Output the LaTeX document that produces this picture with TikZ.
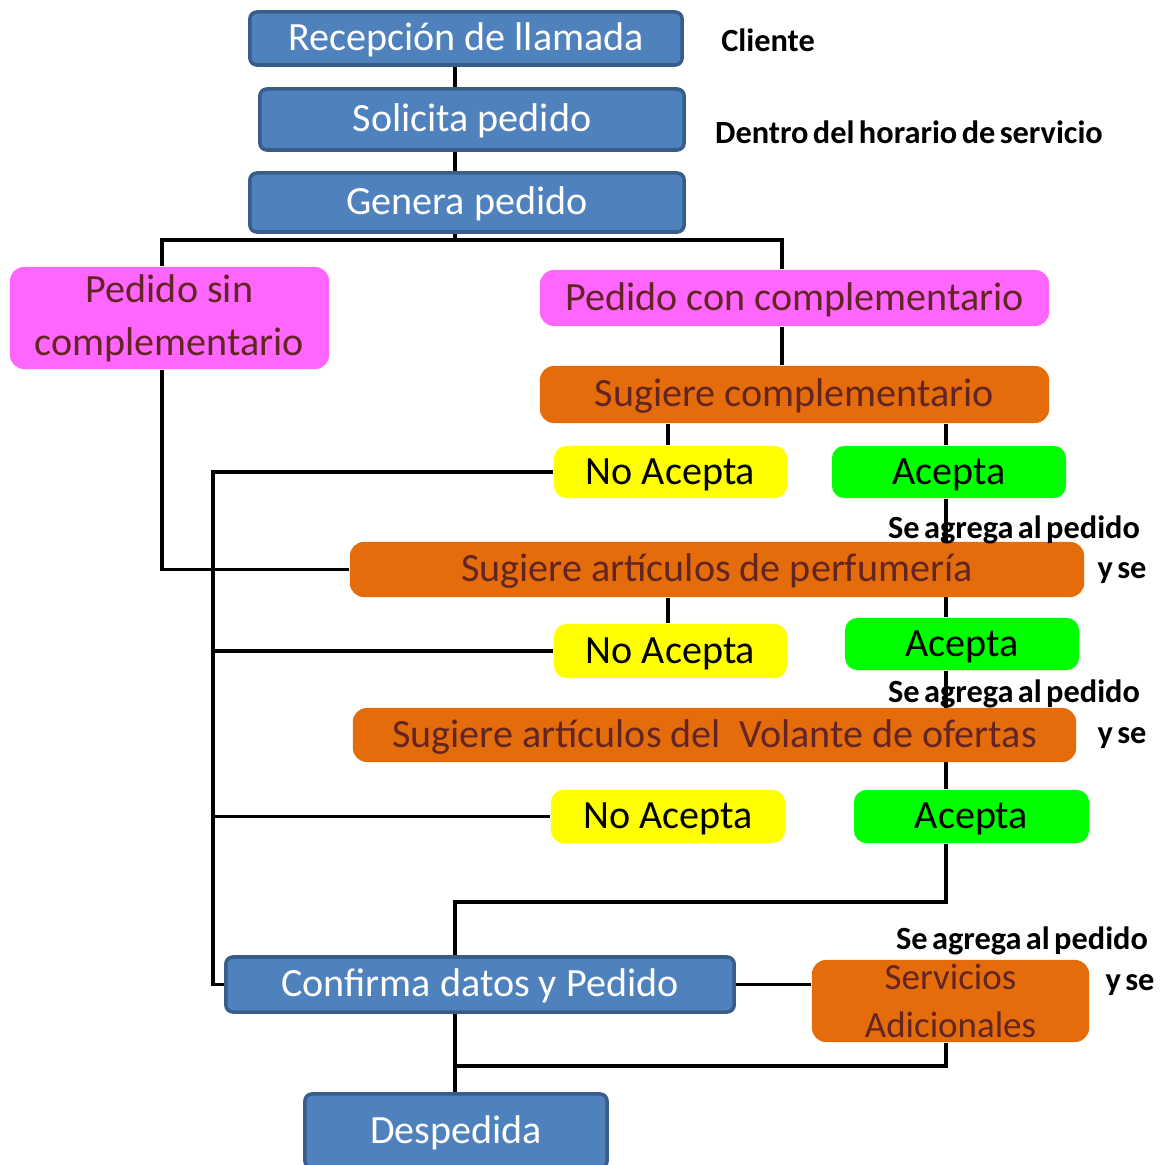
\documentclass[tikz,border=0pt]{standalone}
\usepackage{fontspec}
\setmainfont{Carlito}
\newfontfamily\notafont[WordSpace=0.6]{Carlito}
\usetikzlibrary{backgrounds}
\definecolor{azul}{HTML}{4F81BD}
\definecolor{azulborde}{HTML}{385D8A}
\definecolor{rosa}{HTML}{FF66FF}
\definecolor{naranja}{HTML}{E46C0A}
\definecolor{vino}{HTML}{632523}
\definecolor{amarillo}{HTML}{FFFF00}
\definecolor{verde}{HTML}{00FF00}
\tikzset{
  caja/.style={rectangle, inner sep=0pt, align=center, font=\fontsize{11.4}{15}\selectfont},
  linea/.style={text height=0.95em, text depth=0.25em},
  paso/.style={caja, linea, fill=azul, draw=azulborde, line width=1pt, rounded corners=2pt, text=white},
  tipo/.style={caja, fill=rosa, rounded corners=4pt, text=vino},
  sugiere/.style={caja, fill=naranja, rounded corners=4pt, text=vino},
  rechazo/.style={caja, linea, fill=amarillo, rounded corners=3.5pt},
  acepto/.style={caja, linea, fill=verde, rounded corners=3.5pt},
  nota/.style={inner sep=0pt, font=\notafont\bfseries\fontsize{9.2}{11}\selectfont},
  enlace/.style={line width=0.95pt}
}
\begin{document}
\begin{tikzpicture}[x=0.01cm,y=-0.01cm]
\clip (0,0) rectangle (1163,1165);
\node[paso, minimum width=4.32cm, minimum height=0.53cm] (recepcion) at (466,38.5) {Recepción de llamada};
\node[paso, minimum width=4.24cm, minimum height=0.61cm] (solicita) at (472,119.5) {Solicita pedido};
\node[paso, minimum width=4.34cm, minimum height=0.59cm] (genera) at (467,202.5) {Genera pedido};
\node[tipo, minimum width=3.19cm, minimum height=1.02cm] (sincomp) at (169.5,318) {Pedido sin\\complementario};
\node[tipo, linea, minimum width=5.09cm, minimum height=0.56cm] (concomp) at (794.5,298) {Pedido con complementario};
\node[sugiere, linea, minimum width=5.09cm, minimum height=0.57cm] (sugcomp) at (794.5,394.5) {Sugiere complementario};
\node[rechazo, minimum width=2.33cm, minimum height=0.52cm] (noacep1) at (670.5,472) {No Acepta};
\node[acepto, minimum width=2.34cm, minimum height=0.52cm] (acep1) at (949,472) {Acepta};
\node[sugiere, linea, minimum width=7.34cm, minimum height=0.55cm] (perfum) at (717,569.5) {Sugiere artículos de perfumería};
\node[rechazo, minimum width=2.33cm, minimum height=0.54cm] (noacep2) at (670.5,651) {No Acepta};
\node[acepto, minimum width=2.34cm, minimum height=0.52cm] (acep2) at (962,644) {Acepta};
\node[sugiere, linea, minimum width=7.23cm, minimum height=0.54cm] (volante) at (714.5,735) {Sugiere artículos del\ \ Volante de ofertas};
\node[rechazo, minimum width=2.34cm, minimum height=0.53cm] (noacep3) at (668,816.5) {No Acepta};
\node[acepto, minimum width=2.35cm, minimum height=0.53cm] (acep3) at (971.5,816.5) {Acepta};
\node[paso, minimum width=5.08cm, minimum height=0.55cm] (confirma) at (480,984.5) {Confirma datos y Pedido};
\node[sugiere, minimum width=2.77cm, minimum height=0.82cm, font=\fontsize{10.5}{13.6}\selectfont] (servicios) at (950.5,1001) {Servicios\\Adicionales};
\node[paso, minimum width=3.02cm, minimum height=0.74cm] (despedida) at (456,1131) {Despedida};
\node[nota] (cliente) at (768,40) {Cliente};
\node[nota] (horario) at (909,132) {Dentro del horario de servicio};
\node[nota] (agrega1) at (1014,530) {Se agrega al pedido};
\node[nota] (yse1) at (1122,573) {y se};
\node[nota] (agrega2) at (1014,694) {Se agrega al pedido};
\node[nota] (yse2) at (1122,738) {y se};
\node[nota] (agrega3) at (1022,941) {Se agrega al pedido};
\node[nota] (yse3) at (1130,985) {y se};
\coordinate (trunk) at (455,0);
\coordinate (railA) at (162,0);
\coordinate (railB) at (213,0);
\coordinate (railC) at (782,0);
\coordinate (railD) at (668,0);
\coordinate (railE) at (946,0);
\coordinate (fork) at (455,240);
\coordinate (join) at (455,902);
\coordinate (merge) at (455,1066);
\begin{pgfonlayer}{background}
\draw[enlace] (recepcion.south -| trunk) -- (solicita.north -| trunk);
\draw[enlace] (solicita.south -| trunk) -- (genera.north -| trunk);
\draw[enlace] (genera.south -| trunk) -- (fork);
\draw[enlace] (sincomp.north -| railA) |- (fork) -| (concomp.north -| railC);
\draw[enlace] (concomp.south -| railC) -- (sugcomp.north -| railC);
\draw[enlace] (sugcomp.south -| railD) -- (noacep1.north -| railD);
\draw[enlace] (sugcomp.south -| railE) -- (acep1.north -| railE);
\draw[enlace] (sincomp.south -| railA) |- (perfum.west);
\draw[enlace] (noacep1.west) -| (railB |- confirma) -- (confirma.west);
\draw[enlace] (noacep2.west) -- (noacep2.west -| railB);
\draw[enlace] (noacep3.west) -- (noacep3.west -| railB);
\draw[enlace] (perfum.south -| railD) -- (noacep2.north -| railD);
\draw[enlace] (acep1.south -| railE) -- (acep2.north -| railE);
\draw[enlace] (acep2.south -| railE) -- (acep3.north -| railE);
\draw[enlace] (acep3.south -| railE) |- (join) -- (confirma.north -| trunk);
\draw[enlace] (confirma.east) -- (confirma.east -| servicios.west);
\draw[enlace] (confirma.south -| trunk) -- (despedida.north -| trunk);
\draw[enlace] (servicios.south -| railE) |- (merge);
\end{pgfonlayer}
\end{tikzpicture}
\end{document}
